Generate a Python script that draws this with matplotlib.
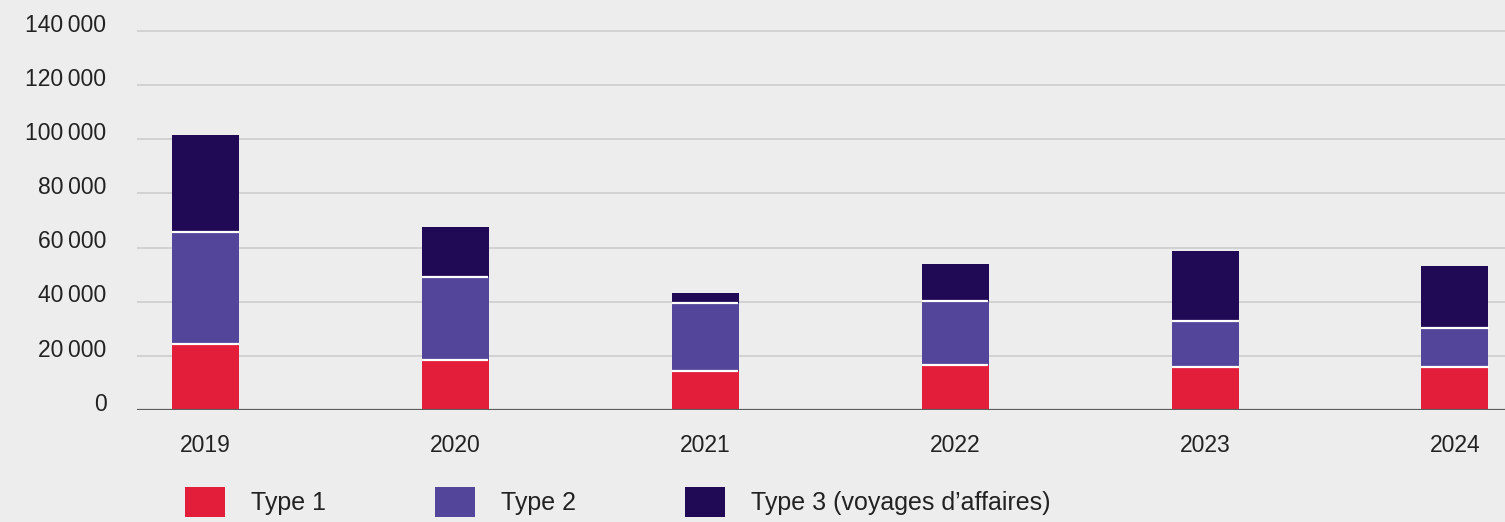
import numpy as np
import matplotlib.pyplot as plt
from matplotlib.transforms import ScaledTranslation

years = ["2019", "2020", "2021", "2022", "2023", "2024"]
type1 = [24400, 18400, 14500, 16600, 16000, 15800]
type2 = [41500, 30900, 24900, 23500, 16900, 14400]
type3 = [35700, 18300, 3800, 13800, 25800, 23000]
labels = ["Type 1", "Type 2", "Type 3 (voyages d\u2019affaires)"]
colors = ["#E31E3A", "#534599", "#200A56"]
yticks = [0, 20000, 40000, 60000, 80000, 100000, 120000, 140000]

plt.rcParams["font.family"] = ["Liberation Sans", "DejaVu Sans"]
bg = "#EDEDED"
txt = "#222222"

fig = plt.figure(figsize=(15.05, 5.22), dpi=100, facecolor=bg)
ax = fig.add_axes([137 / 1505, 112 / 522, 1 - 137 / 1505, 392.5 / 522], facecolor=bg)

x = np.arange(len(years))
w = 0.268
bottom = np.zeros(len(years))
for vals, lab, c in zip([type1, type2, type3], labels, colors):
    ax.bar(x, vals, w, bottom=bottom, color=c, label=lab, zorder=3, linewidth=0)
    bottom = bottom + np.array(vals)
    if lab != labels[-1]:
        ax.hlines(bottom, x - w / 2, x + w / 2, color="white", lw=1.6, zorder=4)

ax.set_xlim(-0.272, 5.2)
ax.set_ylim(0, 145000)
ax.set_yticks(yticks)
ax.set_yticklabels([f"{v:,}".replace(",", "\u2009") for v in yticks])
ax.set_xticks(x)
ax.set_xticklabels(years)
ax.grid(axis="y", color="#D0D0D0", lw=1.3, zorder=0)
ax.axhline(0, color="#5E5E5E", lw=1.6, zorder=5)
for s in ax.spines.values():
    s.set_visible(False)
ax.tick_params(axis="both", length=0, labelsize=16.5, colors=txt)
ax.tick_params(axis="y", pad=22)
ax.tick_params(axis="x", pad=17)
for t in ax.get_yticklabels():
    t.set_transform(t.get_transform() + ScaledTranslation(0, 6 / 72, fig.dpi_scale_trans))

fig.legend(loc="upper left", bbox_to_anchor=(185 / 1505, 1 - 487 / 522), ncol=3,
           frameon=False, fontsize=18, handlelength=1.6, handleheight=1.44,
           handletextpad=1.04, columnspacing=4.36, borderpad=0, borderaxespad=0,
           labelcolor=txt)

fig.savefig("out.png", dpi=100, facecolor=bg)
